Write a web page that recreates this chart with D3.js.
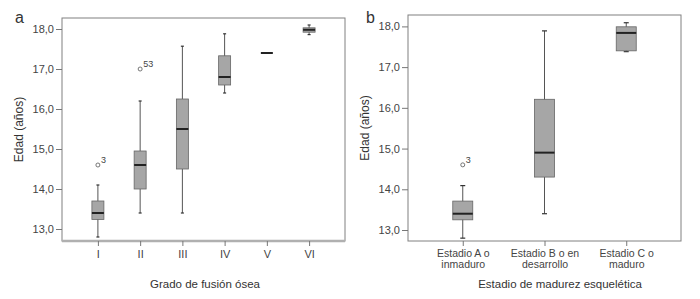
<!DOCTYPE html>
<html>
<head>
<meta charset="utf-8">
<script src="https://cdn.jsdelivr.net/npm/d3@7"></script>
<style>
  body { margin: 0; background: #fff; }
  svg { font-family: "Liberation Sans", Arial, sans-serif; }
  .tick text { fill: #444; }
</style>
</head>
<body>
<div class="container"></div>
<script>
const WIDTH = 700;
const HEIGHT = 299;

// panel a: grado de fusion osea
const catsA = ["I", "II", "III", "IV", "V", "VI"];
const lowA  = [12.8, 13.4, 13.4, 16.4, 17.4, 17.86];
const q1A   = [13.24, 14.0, 14.5, 16.6, 17.4, 17.92];
const medA  = [13.4, 14.6, 15.5, 16.8, 17.4, 17.98];
const q3A   = [13.7, 14.95, 16.25, 17.33, 17.4, 18.03];
const highA = [14.1, 16.2, 17.57, 17.88, 17.4, 18.1];
const outA  = [{cat: "I", v: 14.6, id: "3"}, {cat: "II", v: 17.0, id: "53"}];

// panel b: estadio de madurez esqueletica
const catsB = ["A", "B", "C"];
const catLabelsB = [["Estadio A o", "inmaduro"], ["Estadio B o en", "desarrollo"], ["Estadio C o", "maduro"]];
const lowB  = [12.8, 13.4, 17.38];
const q1B   = [13.25, 14.3, 17.4];
const medB  = [13.4, 14.9, 17.84];
const q3B   = [13.71, 16.21, 17.99];
const highB = [14.09, 17.89, 18.09];
const outB  = [{cat: "A", v: 14.6, id: "3"}];

const yTicks = [13, 14, 15, 16, 17, 18];

var fmt = function(d){ return d3.format(".1f")(d).replace(".", ","); };

var svg = d3.select('.container').append('svg')
    .attr('width', WIDTH)
    .attr('height', HEIGHT);

var drawPanel = function(p){
    var g = svg.append('g');

    var x = d3.scalePoint().domain(p.cats).range([p.left, p.right]).padding(p.pad);
    var y = d3.scaleLinear().domain(p.yDomain).range([p.bottom, p.top]);

    // frame
    g.append('rect')
        .attr('x', p.left).attr('y', p.top)
        .attr('width', p.right - p.left).attr('height', p.bottom - p.top)
        .attr('fill', 'none').attr('stroke', '#808080').attr('stroke-width', 1);
    if (p.thickBottom) {
        g.append('line')
            .attr('x1', p.left).attr('x2', p.right)
            .attr('y1', p.bottom).attr('y2', p.bottom)
            .attr('stroke', '#b0b0b0').attr('stroke-width', 2.5);
    }

    var yAxis = d3.axisLeft(y).tickValues(yTicks).tickSize(6).tickPadding(2).tickFormat(fmt);
    var ya = g.append('g').attr('transform', 'translate(' + p.left + ',0)').call(yAxis);
    ya.select('.domain').remove();
    ya.selectAll('line').attr('stroke', '#777');
    ya.selectAll('text').attr('font-size', 11).attr('fill', '#444');

    var xAxis = d3.axisBottom(x).tickSize(5).tickPadding(4);
    var xa = g.append('g').attr('transform', 'translate(0,' + p.bottom + ')').call(xAxis);
    xa.select('.domain').remove();
    xa.selectAll('line').attr('stroke', '#777');
    if (p.labels) {
        xa.selectAll('.tick text').text(null).each(function(d, i){
            var t = d3.select(this).attr('font-size', 10.5).attr('fill', '#444');
            p.labels[i].forEach(function(s, j){
                t.append('tspan').attr('x', 0).attr('dy', j === 0 ? '0.71em' : '1.05em').text(s);
            });
        });
    } else {
        xa.selectAll('text').attr('font-size', 11).attr('fill', '#444');
    }

    var idx = d3.range(p.cats.length);
    var bw = p.boxW;

    // whiskers
    g.selectAll('.whisker').data(idx).enter().append('line')
        .attr('x1', function(i){ return x(p.cats[i]); })
        .attr('x2', function(i){ return x(p.cats[i]); })
        .attr('y1', function(i){ return y(p.low[i]); })
        .attr('y2', function(i){ return y(p.high[i]); })
        .attr('stroke', '#555').attr('stroke-width', 1);
    [p.low, p.high].forEach(function(arr){
        g.selectAll(null).data(idx).enter().append('line')
            .attr('x1', function(i){ return x(p.cats[i]) - p.capW / 2; })
            .attr('x2', function(i){ return x(p.cats[i]) + p.capW / 2; })
            .attr('y1', function(i){ return y(arr[i]); })
            .attr('y2', function(i){ return y(arr[i]); })
            .attr('stroke', '#333').attr('stroke-width', 1.2);
    });

    // boxes
    g.selectAll('.box').data(idx).enter().append('rect')
        .attr('x', function(i){ return x(p.cats[i]) - bw / 2; })
        .attr('y', function(i){ return y(p.q3[i]); })
        .attr('width', bw)
        .attr('height', function(i){ return Math.max(0, y(p.q1[i]) - y(p.q3[i])); })
        .attr('fill', '#a6a6a6').attr('stroke', '#666').attr('stroke-width', 0.8);

    // medians
    g.selectAll('.median').data(idx).enter().append('line')
        .attr('x1', function(i){ return x(p.cats[i]) - bw / 2; })
        .attr('x2', function(i){ return x(p.cats[i]) + bw / 2; })
        .attr('y1', function(i){ return y(p.med[i]); })
        .attr('y2', function(i){ return y(p.med[i]); })
        .attr('stroke', '#222').attr('stroke-width', 2);

    // outliers
    g.selectAll('.out').data(p.out).enter().append('circle')
        .attr('cx', function(d){ return x(d.cat); })
        .attr('cy', function(d){ return y(d.v); })
        .attr('r', 2).attr('fill', 'none').attr('stroke', '#555').attr('stroke-width', 0.8);
    g.selectAll('.outlab').data(p.out).enter().append('text')
        .attr('x', function(d){ return x(d.cat) + 3; })
        .attr('y', function(d){ return y(d.v) - 2; })
        .attr('font-size', 9).attr('fill', '#444')
        .text(function(d){ return d.id; });

    // titles
    g.append('text')
        .attr('transform', 'translate(' + p.yLabelX + ',' + ((p.top + p.bottom) / 2) + ') rotate(-90)')
        .attr('text-anchor', 'middle').attr('font-size', 12).attr('fill', '#333')
        .text('Edad (años)');
    g.append('text')
        .attr('x', p.xTitleX).attr('y', 288)
        .attr('text-anchor', 'middle').attr('font-size', 11.5).attr('fill', '#333')
        .text(p.xTitle);
    g.append('text')
        .attr('x', p.letterX).attr('y', 23)
        .attr('font-size', 16).attr('fill', '#333')
        .text(p.letter);
};

drawPanel({
    cats: catsA, low: lowA, q1: q1A, med: medA, q3: q3A, high: highA, out: outA,
    left: 62, right: 345, top: 18, bottom: 241, yDomain: [12.7, 18.275], pad: 0.85,
    boxW: 12, capW: 3, thickBottom: true, yLabelX: 23, letterX: 15, letter: 'a',
    xTitle: 'Grado de fusión ósea', xTitleX: 205
});

drawPanel({
    cats: catsB, labels: catLabelsB, low: lowB, q1: q1B, med: medB, q3: q3B, high: highB, out: outB,
    left: 408, right: 681, top: 15, bottom: 241, yDomain: [12.73, 18.28], pad: 0.67,
    boxW: 20, capW: 5, thickBottom: false, yLabelX: 369, letterX: 366, letter: 'b',
    xTitle: 'Estadio de madurez esquelética', xTitleX: 560
});
</script>
</body>
</html>
